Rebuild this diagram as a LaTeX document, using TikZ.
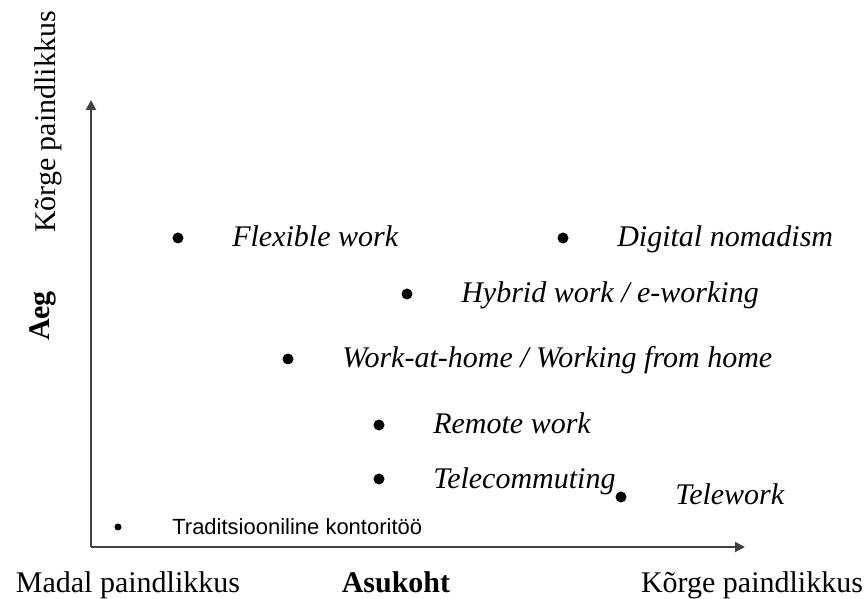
\documentclass[tikz,border=0pt]{standalone}
\usepackage{fontspec}
\setmainfont{Liberation Serif}
\newfontfamily\arialfont{Liberation Sans}
\usetikzlibrary{positioning,arrows.meta}

\tikzset{
	dot/.style={circle,fill=black,inner sep=0pt,minimum size=5.5pt},
	smalldot/.style={circle,fill=black,inner sep=0pt,minimum size=3.5pt},
	kind/.style={font=\fontsize{15}{18}\selectfont\itshape,inner sep=0pt,text height=9pt,text depth=0pt},
	axislbl/.style={font=\fontsize{15}{18}\selectfont,inner sep=0pt},
	axisname/.style={font=\fontsize{15}{18}\selectfont\bfseries,inner sep=0pt},
	axisline/.style={draw=black!75,line width=1pt,-{Triangle[length=5pt,width=5pt]}},
}

\begin{document}
\begin{tikzpicture}[x=0.5pt,y=-0.5pt,node distance=24pt]
		\useasboundingbox (0,0) rectangle (864,599);
		% axes
		\coordinate (O) at (91,547);
		\coordinate (ytip) at (91,100);
		\coordinate (xtip) at (745,547);
		\draw[axisline] (O)--(ytip);
		\draw[axisline] (O)--(xtip);
		
		\node[axislbl,anchor=base] (lowx) at (128,592) {Madal paindlikkus};
		\node[axisname,anchor=base] (asukoht) at (396,592) {Asukoht};
		\node[axislbl,anchor=base] (highx) at (752,592) {Kõrge paindlikkus};
		\node[axislbl,rotate=90,anchor=base] (highy) at (55,122) {Kõrge paindlikkus};
		\node[axisname,rotate=90,anchor=base] (aeg) at (49,316) {Aeg};
		
		% work forms
		\node[dot] (flex) at (178,238) {};
		\node[kind,right=of flex] (flexl) {Flexible work};
		\node[dot] (nomad) at (563,238) {};
		\node[kind,right=of nomad] (nomadl) {Digital nomadism};
		\node[dot] (hybrid) at (407,294) {};
		\node[kind,right=of hybrid] (hybridl) {Hybrid work / e-working};
		\node[dot] (home) at (288,359) {};
		\node[kind,right=of home] (homel) {Work-at-home / Working from home};
		\node[dot] (remote) at (379,425) {};
		\node[kind,right=of remote] (remotel) {Remote work};
		\node[dot] (tcomm) at (379,479) {};
		\node[kind,right=of tcomm] (tcomml) {Telecommuting};
		\node[dot] (twork) at (621,497) {};
		\node[kind,right=of twork,yshift=1pt] (tworkl) {Telework};
		\node[smalldot] (office) at (118,527) {};
		\node[font=\fontsize{11}{13}\selectfont\arialfont,inner sep=0pt,right=25pt of office] (officel) {Traditsiooniline kontoritöö};
	\end{tikzpicture}
\end{document}
